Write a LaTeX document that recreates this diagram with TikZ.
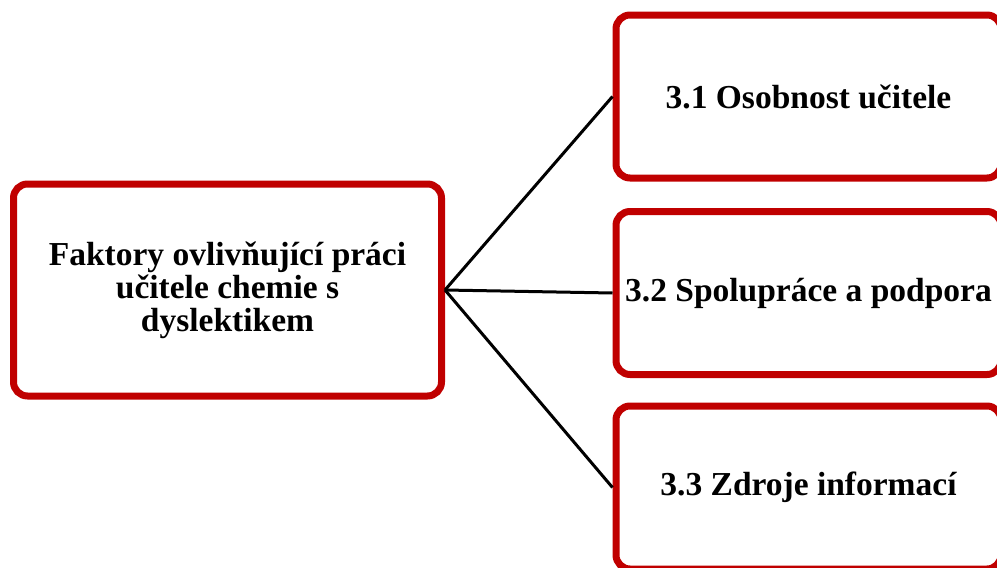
\documentclass[tikz,border=0pt]{standalone}
\usepackage{fontspec}
\setmainfont{Liberation Serif}
\usepackage{tikz}
\usepackage{xcolor}
\usetikzlibrary{positioning}
\definecolor{boxcolor}{RGB}{192,0,0}

\begin{document}
\begin{tikzpicture}[
    x=1pt, y=-1pt,
    topic/.style={rectangle, draw=boxcolor, line width=7pt, rounded corners=14pt, fill=white,
      align=center, font=\fontsize{33.5}{33}\selectfont\bfseries},
    part/.style={topic, minimum width=385pt, minimum height=163pt, inner sep=0pt},
    link/.style={line width=3pt, black}
]
\useasboundingbox (0,0) rectangle (997,568);

\node[topic, minimum width=428pt, minimum height=212pt] (factors) at (227.5,290)
  {Faktory ovlivňující práci\\učitele chemie s\\dyslektikem};

\node[part] (teacher) at (808.5,96.5) {3.1 Osobnost učitele};
\node[part] (support) at (808.5,293) {3.2 Spolupráce a podpora};
\node[part] (sources) at (808.5,487.5) {3.3 Zdroje informací};

\draw[link] (factors.east) -- (teacher.west);
\draw[link] (factors.east) -- (support.west);
\draw[link] (factors.east) -- (sources.west);
\end{tikzpicture}
\end{document}
